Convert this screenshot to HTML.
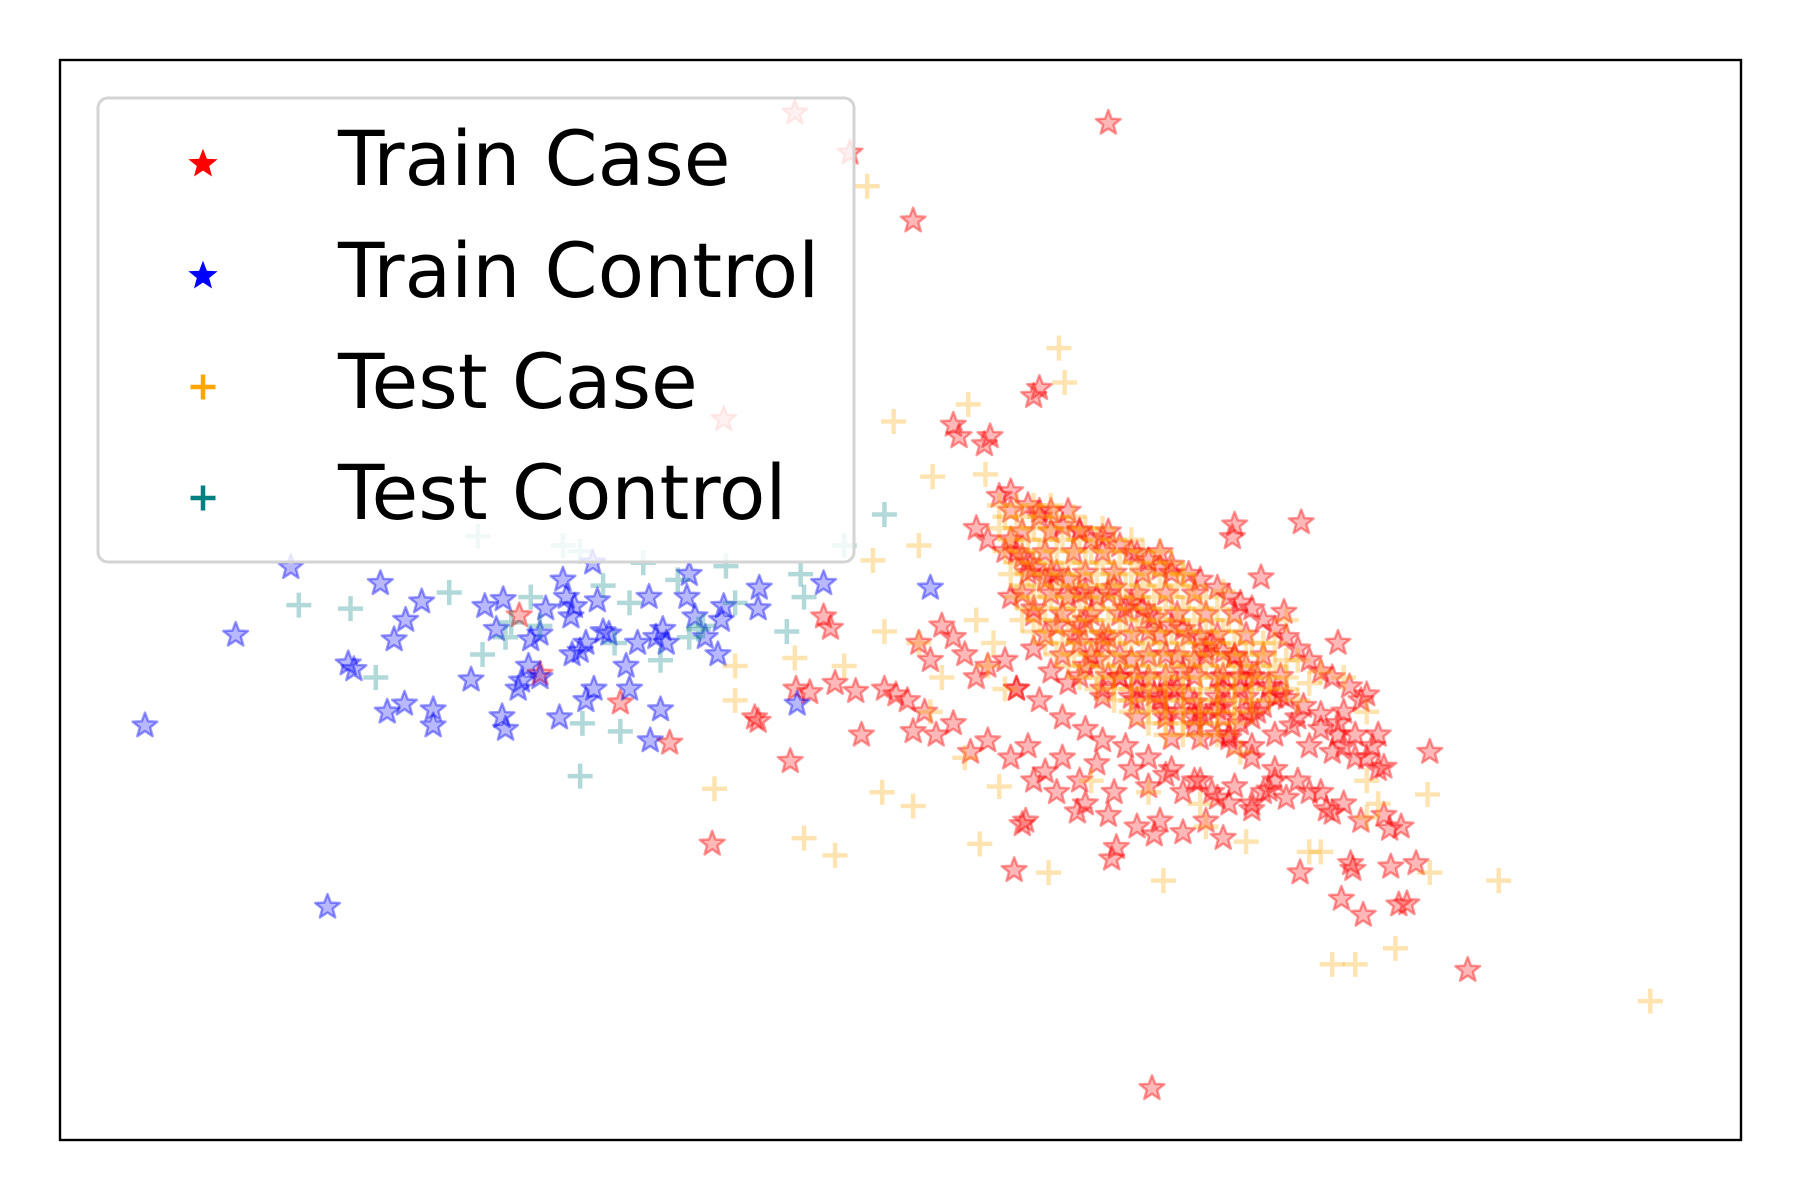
<!DOCTYPE html>
<html><head><meta charset="utf-8"><style>
html,body{margin:0;padding:0;background:#fff;}
svg{display:block;}
</style></head><body>
<svg id="chart" width="1800" height="1200" viewBox="0 0 1800 1200" xmlns="http://www.w3.org/2000/svg">
<rect x="0" y="0" width="1800" height="1200" fill="#fff"/>
<g id="marks"></g>
<rect x="60" y="60" width="1681" height="1080" fill="none" stroke="#000" stroke-width="2.4"/>
<g id="legend">
<rect x="98" y="98" width="756" height="464" rx="10" fill="rgba(255,255,255,0.8)" stroke="#d4d4d4" stroke-width="3"/>
</g>
</svg>
<script>
// data in source plot units
const trainCaseX = [692,740,795,965,630,900,905,830,835,857,862,1075,1073,1133,1098,1118,1165,1245,1278,1003,1218,1225,1187,1168,1211,1233,1176,1178,1132,1210,1160,883,968,972,1005,938,890,893,620,688,750,657,660,583,540,470,452,723,717,693,705,727,745,795,770,780,1060,1085,1185,1200,1205,1165,1170,1110,1100,
 870,880,895,905,915,925,940,950,960,975,990,1000,1010,1020,1035,1045,1060,1070,1080,1090,1100,1110,1120,1130,1140,1150,1160,1175,1190,
 850,860,875,890,900,915,930,945,955,970,985,995,1005,1020,1030,1045,1055,1065,1075,1085,1095,1105,1120,1135,1150,1165,1180,1195,
 800,810,820,830,840,850,860,875,885,900,915,930,945,960,975,990,1005,1015,1025,1040,1050,1065,1080,1095,1110,1125,1140,1160,1180,1200,
 790,805,815,830,845,860,880,895,910,925,940,955,970,985,1000,1015,1030,1045,1060,1075,1090,1105,1120,1140,1155,1170,1185,1205,1220,
 880,895,910,930,945,965,980,1000,1015,1030,1050,1065,1080,1100,1115,1130,1150,1170,1190,
 880,900,920,940,955,975,990,1010,1025,1040,1060,1075,1090,1110,1130,1150,
 885,905,925,945,960,980,1000,1020,1040,1055,1070,1090,
 900,920,945,965,990,1010,1030,1050,1065,940,960,985,1000,1020,1045,1070,1090,1040,1060,1080,
 880,905,930, 890,915,940,965, 885,910,935,960,985,1010, 895,920,945,970,995,1020, 890,915,940,965,990,1015,1040,
 900,925,950,975,1000,1025,1050,1075, 910,935,960,985,1010,1035,1060,1085, 925,950,975,1000,1025,1050,1075,1100,
 940,965,990,1015,1040,1065,1090,1115, 960,985,1010,1035,1060,1085,1110, 990,1015,1040,1065,1090, 1020,1045,1070];
const trainCaseY = [98,133,192,107,365,345,338,370,380,387,380,457,468,455,503,533,560,655,845,948,788,787,797,783,755,752,752,757,760,722,708,758,748,738,727,707,718,715,735,663,640,625,628,647,612,587,536,547,537,600,603,595,602,637,600,605,617,620,610,640,668,640,620,680,690,
 432,428,440,450,445,458,462,470,468,475,482,488,495,492,500,505,512,520,525,530,540,548,555,565,575,585,590,598,605,
 460,470,480,485,495,500,505,515,520,512,525,530,538,545,548,555,560,568,572,580,590,598,608,615,622,630,640,650,
 560,575,545,555,570,590,580,575,600,565,585,595,580,600,590,610,605,620,600,612,625,615,630,620,640,632,650,655,660,670,
 610,620,640,630,655,645,660,650,672,660,680,665,690,670,685,675,690,680,695,685,700,688,695,690,705,700,715,710,720,
 470,490,505,520,540,555,530,550,570,585,565,600,590,615,605,625,635,650,660,
 520,530,545,560,575,590,600,610,620,632,640,650,660,670,680,690,
 600,610,625,635,645,650,660,670,680,690,700,705,
 680,690,700,710,720,715,725,715,730,545,560,575,590,600,620,640,650,575,590,600,
 445,445,445, 463,463,463,463, 481,481,481,481,481,481, 499,499,499,499,499,499, 517,517,517,517,517,517,517,
 535,535,535,535,535,535,535,535, 553,553,553,553,553,553,553,553, 571,571,571,571,571,571,571,571,
 589,589,589,589,589,589,589,589, 607,607,607,607,607,607,607, 625,625,625,625,625, 643,643,643];
const trainControlX = [126,205,253,285,303,308,331,343,353,367,337,352,377,377,410,422,432,438,437,440,451,460,454,470,475,487,490,493,497,500,505,510,517,520,525,516,530,545,548,555,565,571,577,580,575,566,598,600,605,614,625,630,661,660,694,717,810,628,462,498,510,470];
const trainControlY = [632,553,494,790,578,583,508,557,540,524,620,613,618,632,592,528,548,522,624,635,600,580,593,552,530,625,505,520,537,528,567,560,600,523,550,490,552,580,600,560,520,555,548,560,618,645,520,500,537,555,570,528,512,530,613,508,512,540,557,570,610,590];
const testCaseX = [755,922,927,778,843,812,858,800,760,640,692,735,770,622,640,700,727,768,795,853,913,1013,1050,1085,1140,1150,1160,1180,1215,1243,1245,1305,1437,1130,1150,1170,1190,1120,1110,1030,1065,1190,1200,1190,950,1000,1045,870,840,810,820,800,
 870,885,900,915, 875,890,905,920,935, 870,885,900,915,930,945,960, 880,895,910,925,940,955,970,985,
 875,890,905,920,935,950,965,980,995,1010, 885,900,915,930,945,960,975,990,1005,1020,
 880,895,910,925,940,955,970,985,1000,1015,1030, 890,905,920,935,950,965,980,995,1010,1025,1040,
 885,900,915,930,945,960,975,990,1005,1020,1035,1050, 895,910,925,940,955,970,985,1000,1015,1030,1045,1060,
 890,905,920,935,950,965,980,995,1010,1025,1040,1055,1070, 900,915,930,945,960,975,990,1005,1020,1035,1050,1065,1080,
 910,925,940,955,970,985,1000,1015,1030,1045,1060,1075,1090, 920,935,950,965,980,995,1010,1025,1040,1055,1070,1085,1100,
 930,945,960,975,990,1005,1020,1035,1050,1065,1080,1095,1110, 940,955,970,985,1000,1015,1030,1045,1060,1075,1090,1105,1120,
 955,970,985,1000,1015,1030,1045,1060,1075,1090,1105,1120, 970,985,1000,1015,1030,1045,1060,1075,1090,1105,
 985,1000,1015,1030,1045,1060,1075,1090, 1000,1015,1030,1045,1060,1075, 1015,1030,1045,1060,
 850,865,860,875,1100,1120,1140,1130,1080];
const testCaseY = [162,303,333,367,352,415,413,475,488,580,573,580,550,687,610,730,745,690,702,735,760,767,720,733,742,742,840,840,826,692,760,767,872,575,585,590,620,540,560,500,515,680,700,712,680,690,700,685,660,620,590,560,
 440,440,440,440, 450,450,450,450,450, 460,460,460,460,460,460,460, 470,470,470,470,470,470,470,470,
 480,480,480,480,480,480,480,480,480,480, 490,490,490,490,490,490,490,490,490,490,
 500,500,500,500,500,500,500,500,500,500,500, 510,510,510,510,510,510,510,510,510,510,510,
 520,520,520,520,520,520,520,520,520,520,520,520, 530,530,530,530,530,530,530,530,530,530,530,530,
 540,540,540,540,540,540,540,540,540,540,540,540,540, 550,550,550,550,550,550,550,550,550,550,550,550,550,
 560,560,560,560,560,560,560,560,560,560,560,560,560, 570,570,570,570,570,570,570,570,570,570,570,570,570,
 580,580,580,580,580,580,580,580,580,580,580,580,580, 590,590,590,590,590,590,590,590,590,590,590,590,590,
 600,600,600,600,600,600,600,600,600,600,600,600, 610,610,610,610,610,610,610,610,610,610,
 620,620,620,620,620,620,620,620, 630,630,630,630,630,630, 640,640,640,640,
 540,560,580,600,560,575,595,610,655];
const testControlX = [260,305,327,391,416,440,420,445,462,470,490,505,507,505,525,540,548,560,575,590,608,612,632,640,685,697,700,735,770,535,600];
const testControlY = [527,530,590,516,467,555,570,542,520,545,475,480,630,676,510,637,525,490,575,505,548,545,493,525,550,500,520,475,448,560,555];
const legendLabels = ["Train Case","Train Control","Test Case","Test Control"];

const xDomain = [52,1516], yDomain = [52,993];
const xRange = [60,1741], yRange = [60,1140];
function sx(v){return xRange[0]+(v-xDomain[0])/(xDomain[1]-xDomain[0])*(xRange[1]-xRange[0]);}
function sy(v){return yRange[0]+(v-yDomain[0])/(yDomain[1]-yDomain[0])*(yRange[1]-yRange[0]);}
const NS="http://www.w3.org/2000/svg";
function starPath(cx,cy,r){let d="";for(let i=0;i<10;i++){const rr=i%2?r*0.42:r;const a=-Math.PI/2+i*Math.PI/5;d+=(i?"L":"M")+(cx+rr*Math.cos(a)).toFixed(1)+" "+(cy+rr*Math.sin(a)).toFixed(1);}return d+"Z";}
function plusPath(cx,cy,r){return `M${cx-r} ${cy}H${cx+r}M${cx} ${cy-r}V${cy+r}`;}
const marks=document.getElementById('marks');
function drawStars(xs,ys,color,name){
  for(let i=0;i<xs.length;i++){
    const p=document.createElementNS(NS,'path');
    p.setAttribute('d',starPath(sx(xs[i]),sy(ys[i]),13));
    p.setAttribute('fill',color);p.setAttribute('fill-opacity','0.28');
    p.setAttribute('stroke',color);p.setAttribute('stroke-opacity','0.4');p.setAttribute('stroke-width','2.5');
    p.setAttribute('stroke-linejoin','round');
    
    
    marks.appendChild(p);
  }
}
function drawPlus(xs,ys,color,op,name){
  for(let i=0;i<xs.length;i++){
    const p=document.createElementNS(NS,'path');
    p.setAttribute('d',plusPath(sx(xs[i]),sy(ys[i]),12.5));
    p.setAttribute('stroke',color);p.setAttribute('stroke-opacity',op);p.setAttribute('stroke-width','4.5');p.setAttribute('fill','none');
    
    
    marks.appendChild(p);
  }
}
drawStars(trainCaseX,trainCaseY,'#ff0000','train-case-point');
drawStars(trainControlX,trainControlY,'#0000ff','train-control-point');
drawPlus(testCaseX,testCaseY,'#ffa500','0.3','test-case-point');
drawPlus(testControlX,testControlY,'#008080','0.3','test-control-point');

const legend=document.getElementById('legend');
const legendColors=['#ff0000','#0000ff','#ffa500','#008080'];
const legendY=[159,271,382,493];
for(let i=0;i<4;i++){
  const m=document.createElementNS(NS,'path');
  if(i<2){m.setAttribute('d',starPath(203,legendY[i]+5,14));m.setAttribute('fill',legendColors[i]);m.setAttribute('stroke',legendColors[i]);m.setAttribute('stroke-width','1');}
  else{m.setAttribute('d',plusPath(203,legendY[i]+5,12.5));m.setAttribute('stroke',legendColors[i]);m.setAttribute('stroke-width','4.5');m.setAttribute('fill','none');}
  
  
  legend.appendChild(m);
  const t=document.createElementNS(NS,'text');
  t.setAttribute('x','338');t.setAttribute('y',legendY[i]+26);
  t.setAttribute('font-family','"DejaVu Sans", "Liberation Sans", sans-serif');
  t.setAttribute('font-size','76');t.setAttribute('fill','#000');
  t.textContent=legendLabels[i];
  
  
  legend.appendChild(t);
}
</script>
</body></html>
